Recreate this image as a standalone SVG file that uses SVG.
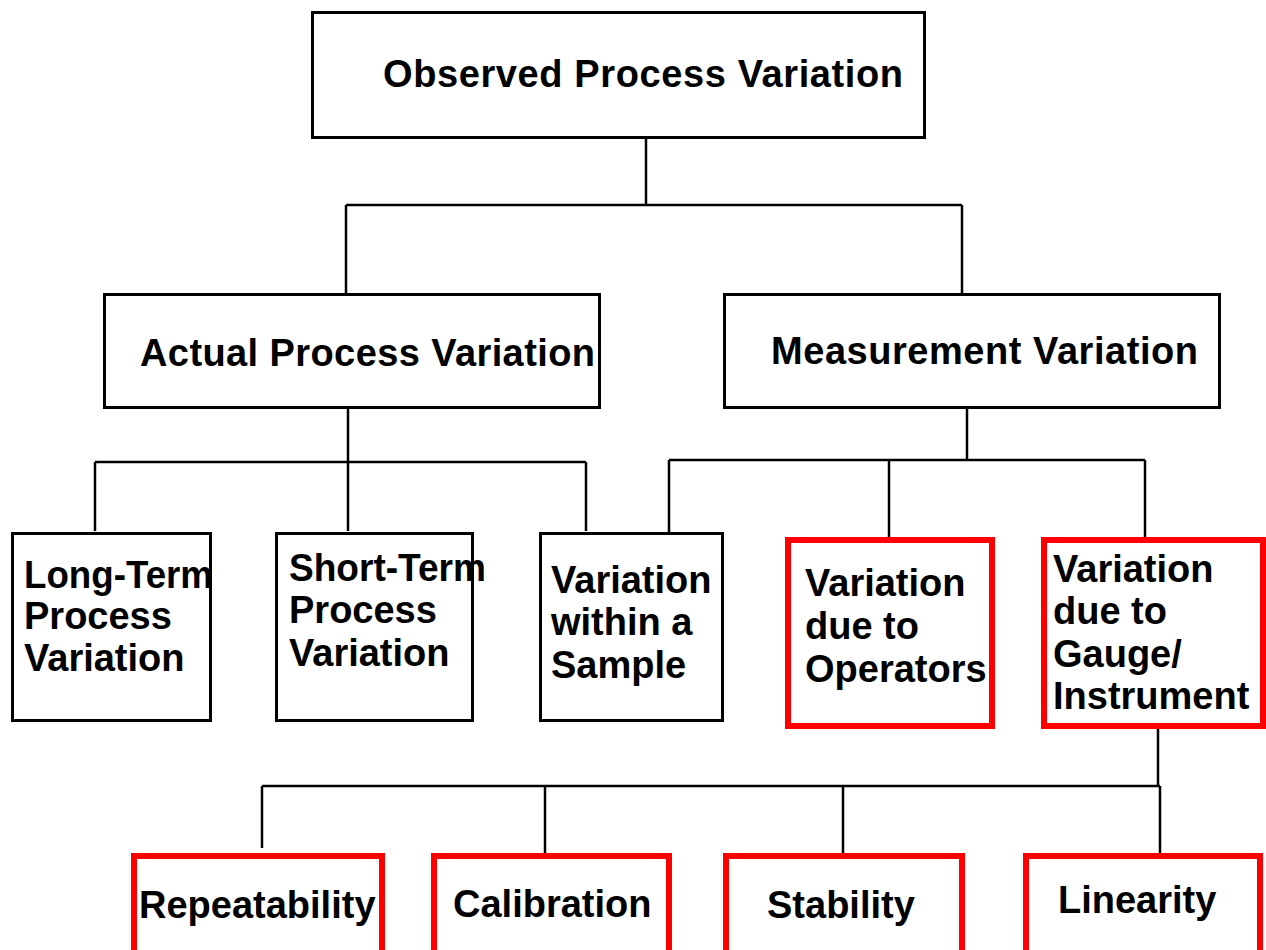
<svg xmlns="http://www.w3.org/2000/svg" width="1266" height="950" viewBox="0 0 1266 950">
  <style>
    .box { fill: #ffffff; stroke: #000000; stroke-width: 3; }
    .hot { fill: #ffffff; stroke: #ff0000; stroke-width: 6; }
    .wire { fill: none; stroke: #000000; stroke-width: 2.5; }
    text { font-family: "Liberation Sans", Arial, sans-serif; font-weight: bold; font-size: 38px; fill: #000000; }
  </style>
  <rect width="1266" height="950" fill="#ffffff"/>

  <!-- tree connectors -->
  <g id="connectors">
    <path class="wire" d="M646 139 V205 M346 205 H962 M346 205 V293 M962 205 V293"/>
    <path class="wire" d="M348 409 V462 M95 462 H586 M95 462 V531 M348 462 V531 M586 462 V531"/>
    <path class="wire" d="M967 409 V460 M669 460 H1145 M669 460 V532 M889 460 V537 M1145 460 V537"/>
    <path class="wire" d="M1158 729 V786 M262 786 H1160 M262 786 V848 M545 786 V855 M843 786 V855 M1160 786 V855"/>
  </g>

  <g id="observed">
    <rect class="box" x="312.5" y="12.5" width="612" height="125"/>
    <text x="383" y="87" textLength="520" lengthAdjust="spacing">Observed Process Variation</text>
  </g>

  <g id="actual">
    <rect class="box" x="104.5" y="294.5" width="495" height="113"/>
    <text x="140" y="366" textLength="455" lengthAdjust="spacing">Actual Process Variation</text>
  </g>

  <g id="measurement">
    <rect class="box" x="724.5" y="294.5" width="495" height="113"/>
    <text x="771" y="364" textLength="427" lengthAdjust="spacing">Measurement Variation</text>
  </g>

  <g id="long-term">
    <rect class="box" x="12.5" y="533.5" width="198" height="187"/>
    <text x="24" y="588" textLength="189" lengthAdjust="spacingAndGlyphs">Long-Term</text>
    <text x="24" y="629">Process</text>
    <text x="24" y="671">Variation</text>
  </g>

  <g id="short-term">
    <rect class="box" x="276.5" y="533.5" width="196" height="187"/>
    <text x="289" y="581" textLength="197" lengthAdjust="spacingAndGlyphs">Short-Term</text>
    <text x="289" y="623">Process</text>
    <text x="289" y="666">Variation</text>
  </g>

  <g id="within-sample">
    <rect class="box" x="540.5" y="533.5" width="182" height="187"/>
    <text x="551" y="593">Variation</text>
    <text x="551" y="635">within a</text>
    <text x="551" y="678">Sample</text>
  </g>

  <g id="operators">
    <rect class="hot" x="788" y="540" width="204" height="186"/>
    <text x="805" y="596">Variation</text>
    <text x="805" y="639">due to</text>
    <text x="805" y="682">Operators</text>
  </g>

  <g id="gauge">
    <rect class="hot" x="1044" y="540" width="219" height="186"/>
    <text x="1053" y="582">Variation</text>
    <text x="1053" y="624">due to</text>
    <text x="1053" y="667">Gauge/</text>
    <text x="1053" y="709">Instrument</text>
  </g>

  <g id="repeatability">
    <rect class="hot" x="134" y="856" width="248" height="110"/>
    <text x="139" y="918">Repeatability</text>
  </g>

  <g id="calibration">
    <rect class="hot" x="434" y="856" width="235" height="110"/>
    <text x="453" y="917">Calibration</text>
  </g>

  <g id="stability">
    <rect class="hot" x="726" y="856" width="236" height="110"/>
    <text x="767" y="918">Stability</text>
  </g>

  <g id="linearity">
    <rect class="hot" x="1026" y="856" width="234" height="110"/>
    <text x="1058" y="913">Linearity</text>
  </g>
</svg>
